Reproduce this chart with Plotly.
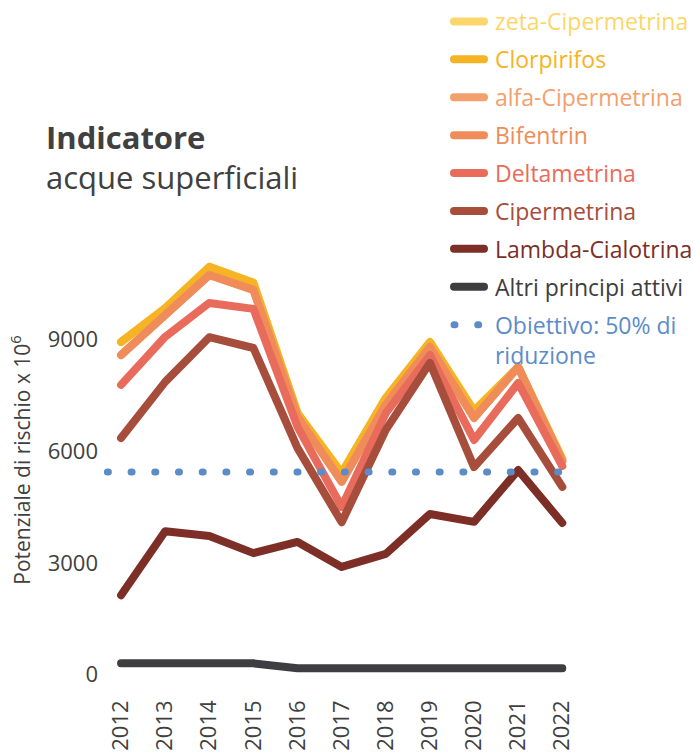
import plotly.graph_objects as go

YEARS = [2012, 2013, 2014, 2015, 2016, 2017, 2018, 2019, 2020, 2021, 2022]

# plotted (cumulative) levels
ZETA_CIPERMETRINA = [8930, 9840, 10950, 10520, 7020, 5410, 7430, 8930, 7080, 8260, 5790]
CLORPIRIFOS = [8930, 9840, 10950, 10520, 7020, 5410, 7430, 8930, 7080, 8260, 5790]
ALFA_CIPERMETRINA = [8580, 9660, 10730, 10330, 6920, 5180, 7250, 8800, 6890, 8260, 5730]
BIFENTRIN = [8580, 9660, 10730, 10330, 6920, 5180, 7250, 8800, 6890, 8260, 5730]
DELTAMETRINA = [7780, 9070, 9980, 9820, 6650, 4500, 7020, 8580, 6300, 7830, 5600]
CIPERMETRINA = [6350, 7860, 9060, 8770, 6080, 4090, 6570, 8370, 5570, 6890, 5040]
LAMBDA_CIALOTRINA = [2130, 3850, 3720, 3260, 3560, 2890, 3240, 4310, 4100, 5490, 4070]
ALTRI = [300, 300, 300, 300, 170, 170, 170, 170, 170, 170, 170]
TARGET = 5440

SERIES_NAMES = ["zeta-Cipermetrina", "Clorpirifos", "alfa-Cipermetrina", "Bifentrin",
                "Deltametrina", "Cipermetrina", "Lambda-Cialotrina", "Altri principi attivi"]
SERIES_VALUES = [ZETA_CIPERMETRINA, CLORPIRIFOS, ALFA_CIPERMETRINA, BIFENTRIN,
                 DELTAMETRINA, CIPERMETRINA, LAMBDA_CIALOTRINA, ALTRI]
COLORS = ["#FDD66B", "#F6B324", "#F4A06D", "#F08C59", "#E96B5B", "#A74D3B", "#7C2E27", "#3E3E40"]
TARGET_LINES = ["Obiettivo: 50% di", "riduzione"]
TARGET_COLOR = "#5B8CC8"
Y_TICKS = [0, 3000, 6000, 9000]

TEXT = "#404040"
FONT = "Open Sans, Noto Sans, sans-serif"
NB = "\u00a0"

fig = go.Figure()
for i, (name, vals, col) in enumerate(zip(SERIES_NAMES, SERIES_VALUES, COLORS)):
    fig.add_trace(go.Scatter(
        x=YEARS, y=vals, mode="lines",
        name=f'<span style="color:{col}">{NB}{name}</span>',
        line=dict(color=col, width=8),
        legendgroup=name, legendrank=i + 1,
        hoverinfo="skip",
    ))

target_label = "<br>".join(f'<span style="color:{TARGET_COLOR}">{NB}{t}</span>' for t in TARGET_LINES)
fig.add_trace(go.Scatter(
    x=[YEARS[0] - 0.31, YEARS[-1] + 0.35], y=[TARGET, TARGET], mode="lines",
    name=target_label,
    line=dict(color=TARGET_COLOR, width=7, dash="1px,22.7px"),
    legendgroup="target", legendrank=20, hoverinfo="skip",
))

fig.add_annotation(
    xref="paper", yref="paper", x=(44 - 99) / 503, y=(690 - 114) / 460,
    xanchor="left", yanchor="top", align="left", showarrow=False,
    text="<b>Indicatore</b><br>acque superficiali",
    font=dict(family=FONT, size=31, color=TEXT),
)

fig.update_layout(
    width=694, height=752,
    margin=dict(l=99, r=92, t=230, b=62, autoexpand=False),
    paper_bgcolor="white", plot_bgcolor="white",
    font=dict(family=FONT, color=TEXT),
    showlegend=True,
    legend=dict(
        x=(449 - 99) / 503, y=(690 - 0) / 460, xanchor="left", yanchor="top",
        traceorder="grouped", tracegroupgap=5, valign="top",
        font=dict(family=FONT, size=23, color=TEXT),
        bgcolor="rgba(0,0,0,0)", itemwidth=30,
    ),
    xaxis=dict(
        range=[2011.5, 2022.9], tickmode="array", tickvals=YEARS,
        ticktext=[str(y) for y in YEARS], tickangle=-90, ticklabelstandoff=5,
        showgrid=False, zeroline=False, showline=False, ticks="",
        tickfont=dict(family=FONT, size=22, color=TEXT), automargin=False,
    ),
    yaxis=dict(
        range=[-416, 11939], tickmode="array", tickvals=Y_TICKS,
        showgrid=False, zeroline=False, showline=False, ticks="",
        tickfont=dict(family=FONT, size=22, color=TEXT), automargin=False,
        title=dict(text="Potenziale di rischio x 10<sup>6</sup>",
                   font=dict(family=FONT, size=21, color=TEXT), standoff=11),
    ),
)

post = (
    "var s=document.createElement('style');"
    "s.textContent='html,body{margin:0;padding:0;overflow:hidden;}"
    ".js-line{stroke-linecap:round !important;stroke-linejoin:round !important;}';"
    "document.head.appendChild(s);"
)
fig.write_html("out.html", post_script=post, config={"displayModeBar": False})
